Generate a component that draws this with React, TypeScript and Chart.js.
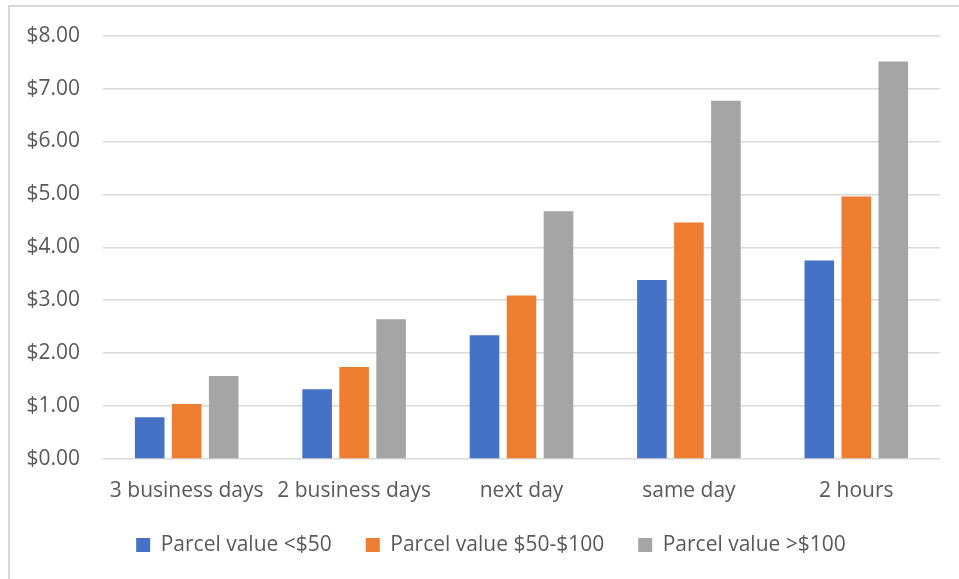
import React, { useEffect, useRef } from "react";
import { Chart, registerables } from "chart.js";

Chart.register(...registerables);

const categories = ["3 business days", "2 business days", "next day", "same day", "2 hours"];
const seriesNames = ["Parcel value <$50", "Parcel value $50-$100", "Parcel value >$100"];
const under50 = [0.79, 1.32, 2.34, 3.38, 3.75];
const from50to100 = [1.04, 1.74, 3.09, 4.47, 4.96];
const over100 = [1.57, 2.64, 4.68, 6.77, 7.51];
const seriesColors = ["#4472C4", "#ED7D31", "#A5A5A5"];
const yMin = 0;
const yMax = 8;
const yStep = 1;

const FONT = "'Open Sans', 'Noto Sans', sans-serif";
const TEXT = "#595959";
const FS = 21;

const borderPlugin = {
  id: "outerBorder",
  beforeDraw(chart: any) {
    const ctx = chart.ctx;
    ctx.save();
    ctx.fillStyle = "#ffffff";
    ctx.fillRect(0, 0, chart.width, chart.height);
    ctx.strokeStyle = "#d9d9d9";
    ctx.lineWidth = 2;
    ctx.strokeRect(9, 6, chart.width + 20, chart.height + 20);
    ctx.restore();
  },
};

const legendShift = {
  id: "legendShift",
  afterLayout(chart: any) {
    const lg = chart.legend;
    if (lg) {
      lg.left += 11;
      lg.right += 11;
      lg.top -= 10.5;
      lg.bottom -= 10.5;
    }
  },
};

export default function App() {
  const ref = useRef<HTMLCanvasElement | null>(null);
  useEffect(() => {
    if (!ref.current) return;
    const chart = new Chart(ref.current, {
      type: "bar",
      data: {
        labels: categories,
        datasets: [under50, from50to100, over100].map((d, i) => ({
          label: seriesNames[i],
          data: d,
          backgroundColor: seriesColors[i],
          borderWidth: 0,
          categoryPercentage: 0.663,
          barPercentage: 0.8,
        })),
      },
      plugins: [borderPlugin, legendShift],
      options: {
        responsive: false,
        animation: false,
        devicePixelRatio: 1,
        layout: { padding: { left: 20, right: 19, top: 35, bottom: 3 } },
        plugins: {
          tooltip: { enabled: false },
          legend: {
            position: "bottom",
            labels: {
              boxWidth: 14,
              boxHeight: 14,
              padding: 34,
              color: TEXT,
              font: { family: FONT, size: FS },
            },
          },
        },
        scales: {
          x: {
            grid: { display: false, drawTicks: false },
            border: { display: false },
            ticks: { color: TEXT, font: { family: FONT, size: FS }, padding: 19, maxRotation: 0 },
            afterFit(scale: any) {
              scale.height = 52;
            },
          },
          y: {
            min: yMin,
            max: yMax,
            grid: { color: "#d9d9d9", lineWidth: 1.5, drawTicks: false },
            border: { display: false },
            ticks: {
              stepSize: yStep,
              color: TEXT,
              padding: 23,
              font: { family: FONT, size: FS },
              callback: (v: any) => "$" + Number(v).toFixed(2),
            },
            afterFit(scale: any) {
              scale.width = 103 - 20;
            },
          },
        },
      },
    });
    return () => chart.destroy();
  }, []);
  return (
    <div style={{ position: "fixed", left: 0, top: 0, width: 959, height: 579, background: "#fff" }}>
      <canvas ref={ref} width={959} height={579} style={{ width: 959, height: 579, display: "block" }} />
    </div>
  );
}
